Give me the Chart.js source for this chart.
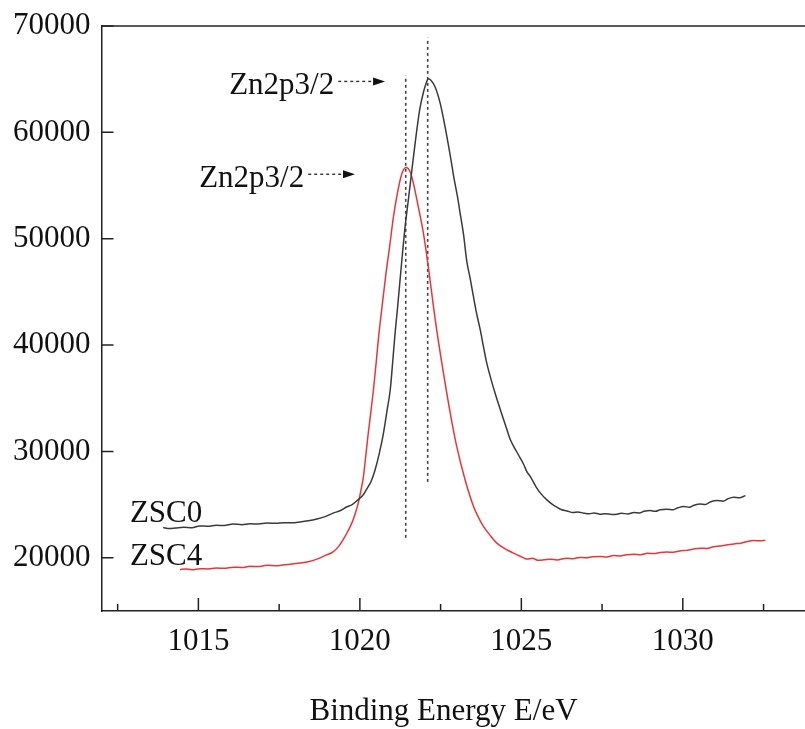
<!DOCTYPE html>
<html>
<head>
<meta charset="utf-8">
<script src="https://cdn.jsdelivr.net/npm/chart.js@4.4.1/dist/chart.umd.min.js"></script>
<style>
  html, body { margin: 0; padding: 0; background: #fff; overflow: hidden; }
  #wrap { width: 805px; height: 729px; overflow: hidden; }
</style>
</head>
<body>
<div id="wrap"><canvas id="xps" width="812" height="729"></canvas></div>
<script>
// ZSC0 spectrum (black)
const zsc0Energy = [1013.91, 1014.1, 1014.3, 1014.55, 1014.8, 1015.05, 1015.3, 1015.55, 1015.8, 1016.07, 1016.35, 1016.6, 1016.85, 1017.13, 1017.4, 1017.65, 1017.9, 1018.15, 1018.4, 1018.67, 1018.9, 1019.17, 1019.4, 1019.6, 1019.75, 1019.94, 1020.1, 1020.22, 1020.35, 1020.47, 1020.6, 1020.73, 1020.85, 1020.94, 1021.03, 1021.09, 1021.16, 1021.3, 1021.4, 1021.5, 1021.61, 1021.71, 1021.85, 1021.97, 1022.05, 1022.12, 1022.2, 1022.33, 1022.49, 1022.64, 1022.8, 1022.92, 1023.02, 1023.11, 1023.21, 1023.31, 1023.42, 1023.52, 1023.62, 1023.73, 1023.83, 1023.93, 1024.06, 1024.19, 1024.32, 1024.45, 1024.56, 1024.66, 1024.86, 1025.07, 1025.17, 1025.28, 1025.45, 1025.59, 1025.79, 1025.95, 1026.1, 1026.25, 1026.41, 1026.6, 1026.75, 1026.93, 1027.1, 1027.25, 1027.44, 1027.6, 1027.8, 1027.96, 1028.1, 1028.3, 1028.48, 1028.65, 1028.8, 1028.99, 1029.15, 1029.3, 1029.51, 1029.7, 1029.85, 1030.03, 1030.2, 1030.35, 1030.54, 1030.7, 1030.85, 1031.06, 1031.25, 1031.4, 1031.58, 1031.75, 1031.94];
const zsc0Counts = [22850, 22760, 22810, 22870, 22830, 23000, 22960, 23060, 23040, 23170, 23120, 23200, 23180, 23270, 23240, 23300, 23290, 23370, 23480, 23650, 23850, 24200, 24450, 24800, 24980, 25450, 25900, 26500, 27200, 28260, 29800, 31710, 34000, 35780, 38900, 41100, 43290, 47980, 51110, 53620, 56440, 58940, 62080, 63790, 64600, 65040, 64900, 64260, 62700, 60500, 57800, 55600, 54000, 52300, 50400, 47900, 46200, 44500, 42900, 41400, 39800, 38300, 36800, 35450, 34200, 33000, 32000, 31100, 29950, 28800, 28100, 27630, 26700, 26080, 25450, 25050, 24760, 24520, 24410, 24250, 24310, 24200, 24140, 24220, 24100, 24150, 24080, 24100, 24180, 24130, 24250, 24220, 24370, 24440, 24380, 24520, 24570, 24520, 24700, 24820, 24760, 24950, 25070, 25020, 25250, 25380, 25330, 25560, 25700, 25650, 25850];

// ZSC4 spectrum (red)
const zsc4Energy = [1014.43, 1014.6, 1014.8, 1015.05, 1015.3, 1015.55, 1015.8, 1016.08, 1016.35, 1016.6, 1016.85, 1017.12, 1017.4, 1017.65, 1017.9, 1018.15, 1018.4, 1018.67, 1018.9, 1019.18, 1019.35, 1019.49, 1019.62, 1019.75, 1019.85, 1019.95, 1020.03, 1020.11, 1020.18, 1020.26, 1020.34, 1020.42, 1020.5, 1020.57, 1020.71, 1020.81, 1020.92, 1021.04, 1021.16, 1021.3, 1021.43, 1021.56, 1021.66, 1021.81, 1021.97, 1022.12, 1022.28, 1022.38, 1022.59, 1022.8, 1023.0, 1023.26, 1023.52, 1023.68, 1023.83, 1024.05, 1024.24, 1024.5, 1024.76, 1025.0, 1025.17, 1025.35, 1025.5, 1025.69, 1025.9, 1026.1, 1026.41, 1026.6, 1026.8, 1027.0, 1027.2, 1027.44, 1027.65, 1027.85, 1028.05, 1028.25, 1028.48, 1028.7, 1028.9, 1029.1, 1029.3, 1029.51, 1029.7, 1029.9, 1030.1, 1030.3, 1030.54, 1030.75, 1030.95, 1031.15, 1031.35, 1031.58, 1031.8, 1032.0, 1032.2, 1032.4, 1032.56];
const zsc4Counts = [18900, 18960, 18880, 18980, 18950, 19040, 19010, 19120, 19090, 19200, 19180, 19290, 19260, 19350, 19420, 19520, 19640, 19880, 20180, 20590, 21100, 21750, 22450, 23260, 24100, 25140, 26300, 27630, 29500, 31710, 33700, 35780, 38200, 40470, 44230, 46760, 49230, 52050, 54250, 56120, 56690, 56270, 55180, 52990, 50490, 47350, 43600, 41410, 37340, 33590, 30450, 27320, 24820, 23750, 22940, 22050, 21380, 20850, 20440, 20100, 19880, 19950, 19780, 19810, 19870, 19800, 19970, 19920, 20040, 20000, 20090, 20120, 20080, 20210, 20180, 20280, 20340, 20300, 20420, 20400, 20500, 20540, 20520, 20650, 20700, 20800, 20910, 20880, 21050, 21120, 21200, 21310, 21380, 21540, 21620, 21600, 21640];

// axes
const xMajorTicks = [1015, 1020, 1025, 1030];
const xMinorTicks = [1012.5, 1017.5, 1022.5, 1027.5, 1032.5];
const yTicks = [20000, 30000, 40000, 50000, 60000, 70000];
const xTitle = "Binding Energy E/eV";

// peak markers (dashed verticals)
const peakEnergy = [1022.1, 1021.42];
const peakTop = [68920, 65350];
const peakBottom = [27140, 21880];

// annotations
const peakLabel = "Zn2p3/2";
const arrowStartX = [1019.33, 1018.40];
const arrowEndX = [1020.78, 1019.85];
const arrowY = [64790, 56060];
const curveNames = ["ZSC0", "ZSC4"];
const curveNameX = [1012.88, 1012.88];
const curveNameY = [23410, 19340];

const FONT = "'Liberation Serif', 'Times New Roman', serif";
const AXIS_COLOR = "#222";

function toPoints(xs, ys) {
  return xs.map((x, i) => ({ x: x, y: ys[i] }));
}

const datasets = [
  {
    label: "ZSC0",
    data: toPoints(zsc0Energy, zsc0Counts),
    borderColor: "#3a3a3a",
    borderWidth: 1.5,
    pointRadius: 0,
    cubicInterpolationMode: "monotone"
  },
  {
    label: "ZSC4",
    data: toPoints(zsc4Energy, zsc4Counts),
    borderColor: "#e8353a",
    borderWidth: 1.5,
    pointRadius: 0,
    cubicInterpolationMode: "monotone"
  }
];

peakEnergy.forEach((e, i) => {
  datasets.push({
    label: "peak" + i,
    data: [{ x: e, y: peakBottom[i] }, { x: e, y: peakTop[i] }],
    borderColor: "#444",
    borderWidth: 1.6,
    borderDash: [3, 3],
    pointRadius: 0
  });
});

// frame, inward ticks, labels and arrows
const decorations = {
  id: "decorations",
  afterDraw(chart) {
    const ctx = chart.ctx;
    const area = chart.chartArea;
    const xs = chart.scales.x;
    const ys = chart.scales.y;
    ctx.save();
    ctx.strokeStyle = AXIS_COLOR;
    ctx.lineWidth = 1.5;

    // top frame line
    ctx.beginPath();
    ctx.moveTo(area.left, area.top);
    ctx.lineTo(area.right, area.top);
    ctx.stroke();

    // inward ticks
    ctx.beginPath();
    xMajorTicks.forEach(v => {
      const px = xs.getPixelForValue(v);
      ctx.moveTo(px, area.bottom);
      ctx.lineTo(px, area.bottom - 13);
    });
    xMinorTicks.forEach(v => {
      const px = xs.getPixelForValue(v);
      ctx.moveTo(px, area.bottom);
      ctx.lineTo(px, area.bottom - 7);
    });
    yTicks.forEach(v => {
      const py = ys.getPixelForValue(v);
      ctx.moveTo(area.left, py);
      ctx.lineTo(area.left + 12, py);
    });
    ctx.stroke();

    ctx.fillStyle = "#111";
    ctx.font = "31px " + FONT;

    // curve names
    ctx.textAlign = "left";
    ctx.textBaseline = "alphabetic";
    curveNames.forEach((name, i) => {
      ctx.fillText(name, xs.getPixelForValue(curveNameX[i]), ys.getPixelForValue(curveNameY[i]));
    });

    // peak labels with dashed arrows
    arrowStartX.forEach((sx, i) => {
      const x0 = xs.getPixelForValue(sx);
      const x1 = xs.getPixelForValue(arrowEndX[i]);
      const y = ys.getPixelForValue(arrowY[i]);
      ctx.textAlign = "right";
      ctx.fillText(peakLabel, x0 - 4, y + 13);

      ctx.save();
      ctx.strokeStyle = "#333";
      ctx.lineWidth = 1.4;
      ctx.setLineDash([3, 3]);
      ctx.beginPath();
      ctx.moveTo(x0, y);
      ctx.lineTo(x1 - 10, y);
      ctx.stroke();
      ctx.restore();

      ctx.beginPath();
      ctx.moveTo(x1, y);
      ctx.lineTo(x1 - 12, y - 4);
      ctx.lineTo(x1 - 12, y + 4);
      ctx.closePath();
      ctx.fill();
    });

    // x axis title
    ctx.textAlign = "center";
    ctx.textBaseline = "alphabetic";
    ctx.fillText(xTitle, area.left + 342, 720);
    ctx.restore();
  }
};

new Chart(document.getElementById("xps").getContext("2d"), {
  type: "line",
  data: { datasets: datasets },
  plugins: [decorations],
  options: {
    responsive: false,
    animation: false,
    layout: { padding: { left: 0, right: 0, top: 26, bottom: 0 } },
    plugins: {
      legend: { display: false },
      tooltip: { enabled: false }
    },
    scales: {
      x: {
        type: "linear",
        min: 1012,
        max: 1034,
        afterBuildTicks: s => { s.ticks = xMajorTicks.map(v => ({ value: v })); },
        afterFit: s => { s.height = 118; },
        grid: { display: false },
        border: { display: true, color: AXIS_COLOR, width: 1.5 },
        ticks: {
          color: "#111",
          padding: 4,
          maxRotation: 0,
          font: { family: FONT, size: 31 },
          callback: v => String(v)
        }
      },
      y: {
        type: "linear",
        min: 15000,
        max: 70000,
        afterBuildTicks: s => { s.ticks = yTicks.map(v => ({ value: v })); },
        afterFit: s => { s.width = 101.5; },
        grid: { display: false },
        border: { display: true, color: AXIS_COLOR, width: 1.5 },
        ticks: {
          color: "#111",
          padding: 3,
          font: { family: FONT, size: 31 },
          callback: v => String(v)
        }
      }
    }
  }
});
</script>
</body>
</html>
